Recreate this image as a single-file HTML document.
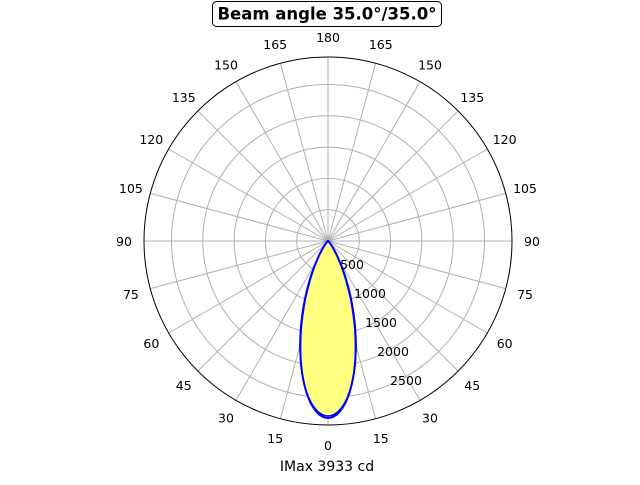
<!DOCTYPE html>
<html><head><meta charset="utf-8"><style>
body{margin:0;background:#fff;width:640px;height:480px;overflow:hidden}
svg text{font-family:"DejaVu Sans","Liberation Sans",sans-serif;font-size:12.5px;fill:#000}
</style></head><body>
<svg id="s" width="640" height="480" xmlns="http://www.w3.org/2000/svg">
<g id="g"></g>
<rect x="212.5" y="1.5" width="229" height="25" rx="4" fill="#fff" stroke="#000" stroke-width="1"/>
<text x="327" y="19.5" text-anchor="middle" style="font-weight:bold;font-size:16.5px">Beam angle 35.0°/35.0°</text>
<text x="327" y="471" text-anchor="middle" style="font-size:14px">IMax 3933 cd</text>
</svg>
<script>
var g=document.getElementById('g'),cx=328,cy=241,R=184,h='';
for(var k=1;k<=5;k++)h+='<circle cx="'+cx+'" cy="'+cy+'" r="'+(k*31.3)+'" fill="none" stroke="#b0b0b0" stroke-width="1"/>';
for(var a=0;a<360;a+=15){var t=a*Math.PI/180;h+='<line x1="'+cx+'" y1="'+cy+'" x2="'+(cx+R*Math.sin(t))+'" y2="'+(cy+R*Math.cos(t))+'" stroke="#b0b0b0" stroke-width="1"/>';
var lab=a<=180?a:360-a;h+='<text x="'+(cx+204*Math.sin(t))+'" y="'+(cy+204*Math.cos(t)+5)+'" text-anchor="middle">'+lab+'</text>';}
function curve(Rm,n,dx){var p=[];for(var d=-90;d<=90;d+=1){var t=d*Math.PI/180,c=Math.cos(t),r=Rm*Math.pow(c,n);p.push((cx+dx+r*Math.sin(t)).toFixed(1)+','+(cy+r*c).toFixed(1));}return p.join(' ');}
h+='<polygon points="'+curve(177,14.6,0)+'" fill="#ffff80" stroke="none"/>';
h+='<polyline points="'+curve(177,14.6,0)+'" fill="none" stroke="#0000ff" stroke-width="2"/>';
h+='<polyline points="'+curve(175,13.8,0)+'" fill="none" stroke="#0000ff" stroke-width="1.5"/>';
var rl=[[352,269,'500'],[370,298,'1000'],[381,327,'1500'],[393,356,'2000'],[406,385,'2500']];
rl.forEach(function(q){h+='<text x="'+q[0]+'" y="'+q[1]+'" text-anchor="middle">'+q[2]+'</text>';});
h+='<circle cx="'+cx+'" cy="'+cy+'" r="'+R+'" fill="none" stroke="#000" stroke-width="1"/>';
g.innerHTML=h;
</script>
</body></html>
